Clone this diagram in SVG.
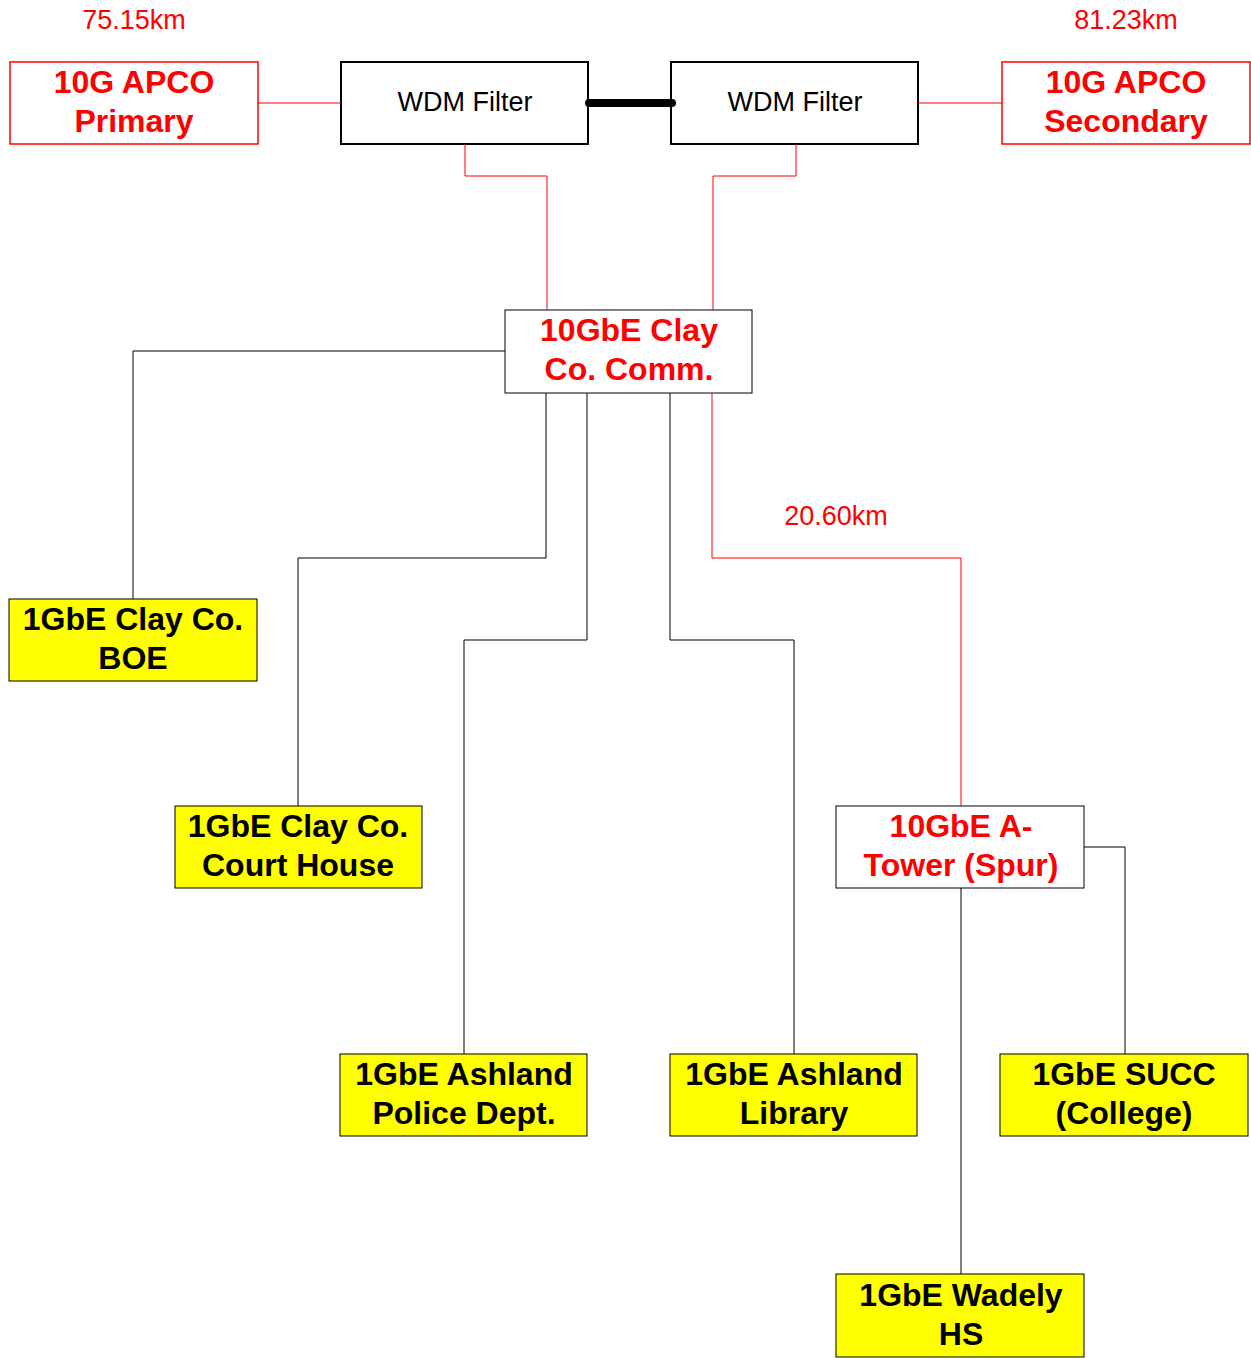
<svg xmlns="http://www.w3.org/2000/svg" width="1251" height="1358" viewBox="0 0 1251 1358">
<style>
.bg{fill:#fff}
.box{stroke-width:1.5}
.red{fill:#fff;stroke:#ff0000}
.blk{fill:#fff;stroke:#000}
.yel{fill:#ffff00;stroke:#000}
.wdm{fill:#fff;stroke:#000;stroke-width:2}
.t{font-family:"Liberation Sans",Arial,sans-serif;text-anchor:middle}
.tb{font-weight:bold;font-size:32px}
.tr{fill:#ff0000}
.tk{fill:#000}
.tl{font-size:27px}
.cr{fill:none;stroke:#ff0000;stroke-width:1}
.ck{fill:none;stroke:#000;stroke-width:1}
</style>
<rect class="bg" width="1251" height="1358"/>
<g id="apco-primary">
<rect class="red box" x="10" y="62" width="248" height="82"/>
<text class="t tb tr" x="134" y="93">10G APCO</text>
<text class="t tb tr" x="134" y="132">Primary</text>
<text class="t tl tr" x="134" y="29">75.15km</text>
</g>
<g id="wdm-left">
<rect class="wdm" x="341" y="62" width="247" height="82"/>
<text class="t tl tk" x="465" y="111">WDM Filter</text>
</g>
<g id="wdm-right">
<rect class="wdm" x="671" y="62" width="247" height="82"/>
<text class="t tl tk" x="795" y="111">WDM Filter</text>
</g>
<g id="apco-secondary">
<rect class="red box" x="1002" y="62" width="248" height="82"/>
<text class="t tb tr" x="1126" y="93">10G APCO</text>
<text class="t tb tr" x="1126" y="132">Secondary</text>
<text class="t tl tr" x="1126" y="29">81.23km</text>
</g>
<g id="clay-comm">
<rect class="blk" x="505" y="310" width="247" height="83"/>
<text class="t tb tr" x="629" y="341">10GbE Clay</text>
<text class="t tb tr" x="629" y="380">Co. Comm.</text>
</g>
<g id="boe">
<rect class="yel" x="9" y="599" width="248" height="82"/>
<text class="t tb tk" x="133" y="630">1GbE Clay Co.</text>
<text class="t tb tk" x="133" y="669">BOE</text>
</g>
<g id="court-house">
<rect class="yel" x="175" y="806" width="247" height="82"/>
<text class="t tb tk" x="298" y="837">1GbE Clay Co.</text>
<text class="t tb tk" x="298" y="876">Court House</text>
</g>
<g id="police">
<rect class="yel" x="340" y="1054" width="247" height="82"/>
<text class="t tb tk" x="464" y="1085">1GbE Ashland</text>
<text class="t tb tk" x="464" y="1124">Police Dept.</text>
</g>
<g id="library">
<rect class="yel" x="670" y="1054" width="247" height="82"/>
<text class="t tb tk" x="794" y="1085">1GbE Ashland</text>
<text class="t tb tk" x="794" y="1124">Library</text>
</g>
<g id="a-tower">
<rect class="blk" x="836" y="806" width="248" height="82"/>
<text class="t tb tr" x="961" y="837">10GbE A-</text>
<text class="t tb tr" x="961" y="876">Tower (Spur)</text>
</g>
<g id="succ">
<rect class="yel" x="1000" y="1054" width="248" height="82"/>
<text class="t tb tk" x="1124" y="1085">1GbE SUCC</text>
<text class="t tb tk" x="1124" y="1124">(College)</text>
</g>
<g id="wadely">
<rect class="yel" x="836" y="1274" width="248" height="83"/>
<text class="t tb tk" x="961" y="1306">1GbE Wadely</text>
<text class="t tb tk" x="961" y="1345">HS</text>
</g>
<g id="connectors">
<line class="cr" x1="258" y1="103" x2="341" y2="103"/>
<line class="cr" x1="918" y1="103" x2="1002" y2="103"/>
<line x1="589" y1="103" x2="672" y2="103" stroke="#000" stroke-width="8" stroke-linecap="round"/>
<polyline class="cr" points="465,144 465,176 547,176 547,310"/>
<polyline class="cr" points="796,144 796,176 713,176 713,310"/>
<polyline class="ck" points="505,351 133,351 133,599"/>
<polyline class="ck" points="546,393 546,558 298,558 298,806"/>
<polyline class="ck" points="587,393 587,640 464,640 464,1054"/>
<polyline class="ck" points="670,393 670,640 794,640 794,1054"/>
<polyline class="cr" points="712,393 712,558 961,558 961,806"/>
<polyline class="ck" points="1084,847 1125,847 1125,1054"/>
<line class="ck" x1="961" y1="888" x2="961" y2="1274"/>
<text class="t tl tr" x="836" y="525">20.60km</text>
</g>
</svg>
